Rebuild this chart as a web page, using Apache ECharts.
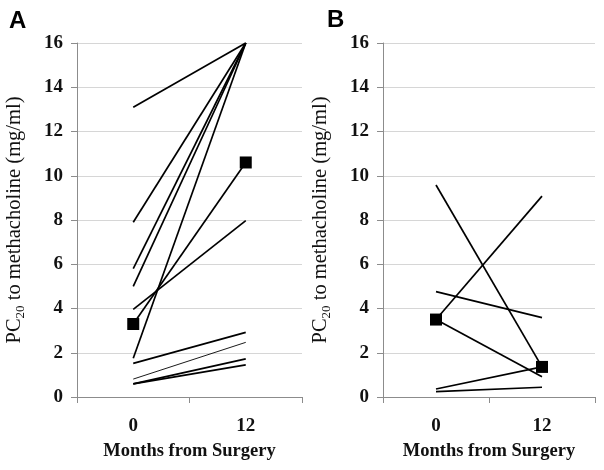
<!DOCTYPE html>
<html>
<head>
<meta charset="utf-8">
<script src="https://cdn.jsdelivr.net/npm/echarts@6/dist/echarts.min.js"></script>
<style>html,body{margin:0;padding:0;background:#fff}#c{width:604px;height:470px}</style>
</head>
<body>
<div id="c"></div>
<script>
// ---- data ----
const months = ['0', '12'];
const panelLabels = ['A', 'B'];
// Panel A: PC20 at month 0 and month 12, one entry per patient
const panelA_m0  = [13.1, 7.9, 5.8, 5.0, 1.75, 3.3, 3.96, 1.52, 0.81, 0.59, 0.59];
const panelA_m12 = [16.0, 16.0, 16.0, 16.0, 16.0, 10.6, 7.97, 2.92, 2.47, 1.72, 1.45];
const panelA_thin = [false, false, false, false, false, false, false, false, true, false, false];
const panelA_median = [3.3, 10.6];
// Panel B
const panelB_m0  = [9.58, 3.5, 3.5, 4.76, 0.36, 0.24];
const panelB_m12 = [1.36, 9.08, 0.92, 3.59, 1.36, 0.44];
const panelB_median = [3.5, 1.36];
const yMin = 0, yMax = 16, yStep = 2;

const serif = '"Liberation Serif", "Times New Roman", serif';
const grids = [
  {left: 77, top: 43, width: 225, height: 354},
  {left: 383, top: 43, width: 212, height: 354}
];

const xAxes = grids.map((g, i) => ({
  type: 'category', gridIndex: i, data: months, boundaryGap: true,
  axisLine: {lineStyle: {color: '#8c8c8c', width: 1}},
  axisTick: {show: true, length: 6, lineStyle: {color: '#8c8c8c'}},
  axisLabel: {fontFamily: serif, fontWeight: 'bold', fontSize: 19, color: '#111', margin: 20},
  name: 'Months from Surgery', nameLocation: 'middle', nameGap: 45,
  nameTextStyle: {fontFamily: serif, fontWeight: 'bold', fontSize: 18.5, color: '#111'}
}));
const yAxes = grids.map((g, i) => ({
  type: 'value', gridIndex: i, min: yMin, max: yMax, interval: yStep,
  axisLine: {show: true, lineStyle: {color: '#8c8c8c', width: 1}},
  axisTick: {show: true, length: 6, lineStyle: {color: '#8c8c8c'}},
  splitLine: {show: true, lineStyle: {color: '#d6d6d6', width: 1}},
  axisLabel: {fontFamily: serif, fontWeight: 'bold', fontSize: 19, color: '#111', margin: 14},
  name: '{a|PC}{s|20}{a| to methacholine (mg/ml)}',
  nameLocation: 'middle', nameGap: 50, nameRotate: 90,
  nameTextStyle: {
    rich: {
      a: {fontFamily: serif, fontSize: 20.5, color: '#111', lineHeight: 24},
      s: {fontFamily: serif, fontSize: 13, color: '#111', verticalAlign: 'bottom', lineHeight: 24}
    }
  }
}));

const series = [];
function addPanel(idx, m0, m12, median, thin) {
  for (let k = 0; k < m0.length; k++) {
    series.push({
      type: 'line', xAxisIndex: idx, yAxisIndex: idx,
      data: [m0[k], m12[k]], symbol: 'none', silent: true,
      lineStyle: {color: '#000', width: (thin && thin[k]) ? 0.9 : 1.7},
      z: 3
    });
  }
  series.push({
    type: 'scatter', xAxisIndex: idx, yAxisIndex: idx,
    data: median, symbol: 'rect', symbolSize: 12,
    itemStyle: {color: '#000', opacity: 1}, z: 5
  });
}
addPanel(0, panelA_m0, panelA_m12, panelA_median, panelA_thin);
addPanel(1, panelB_m0, panelB_m12, panelB_median, null);

const chart = echarts.init(document.getElementById('c'), null, {renderer: 'canvas'});
chart.setOption({
  animation: false,
  backgroundColor: '#fff',
  grid: grids,
  xAxis: xAxes,
  yAxis: yAxes,
  series: series,
  graphic: [
    {type: 'text', left: 9, top: 9, style: {text: panelLabels[0], font: 'bold 24px "Liberation Sans", Arial, sans-serif', fill: '#000'}},
    {type: 'text', left: 327, top: 8, style: {text: panelLabels[1], font: 'bold 24px "Liberation Sans", Arial, sans-serif', fill: '#000'}}
  ]
});
</script>
</body>
</html>
